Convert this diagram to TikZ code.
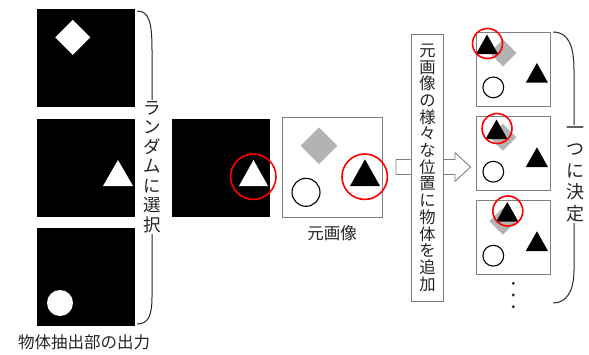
\documentclass[tikz,border=0pt]{standalone}
\usepackage{fontspec}
\newfontfamily\cjk{Noto Sans CJK JP}
\definecolor{lg}{HTML}{B3B3B3}
\definecolor{boxgray}{HTML}{7F7F7F}
\definecolor{txt}{HTML}{262626}
\newcommand{\resultbox}[5]{%
  \node[img, minimum width=74.5pt, minimum height=74pt, anchor=north west] (#1) at (#2,#3) {};
  \fill[lg] ({#2+27.4},{#3+21.2-13.5}) -- ({#2+27.4+13.5},{#3+21.2}) -- ({#2+27.4},{#3+21.2+13.5}) -- ({#2+27.4-13.5},{#3+21.2}) -- cycle;
  \draw[shapeline] ({#2+17.8},{#3+55.7}) circle (10.4);
  \fill[black] ({#2+61.4},{#3+31.3}) -- ({#2+72.5},{#3+51}) -- ({#2+50.3},{#3+51}) -- cycle;
  \fill[black] (#4,#5) -- ({#4+11.1},{#5+19.7}) -- ({#4-11.1},{#5+19.7}) -- cycle;
  \draw[ring] ({#4+0.5},{#5+9}) circle (15);
}
\begin{document}
\begin{tikzpicture}[x=1pt,y=-1pt,
  blk/.style={fill=black, draw=none, inner sep=0pt, minimum width=98pt, minimum height=98pt},
  img/.style={draw=boxgray, line width=0.9pt, fill=white, inner sep=0pt},
  ring/.style={draw=red, line width=1.6pt},
  shapeline/.style={draw=black, line width=1.1pt},
  lbl/.style={font=\cjk\fontsize{16.5}{18}\selectfont, text=txt, inner sep=1pt},
  vtext/.style={text=txt, align=center, inner sep=1pt},
  bracepath/.style={draw=txt, line width=1pt}
]
\useasboundingbox (0,0) rectangle (589,354);

% left column: object extraction outputs
\node[blk] (L1) at (86,58) {};
\node[blk] (L2) at (86,167.5) {};
\node[blk] (L3) at (86,277) {};
\fill[white] (72.7,19.8) -- (90.2,37.3) -- (72.7,54.8) -- (55.2,37.3) -- cycle;
\fill[white] (118,160) -- (133,186) -- (103,186) -- cycle;
\fill[white] (60,303) circle (13);
\node[lbl] (Lout) at (84,342) {物体抽出部の出力};

% left brace
\draw[bracepath] (137,11) .. controls (149,11) and (152,22) .. (152,50) -- (152,297) .. controls (152,316) and (148,324) .. (137,324);
\node[vtext, fill=white, font=\cjk\fontsize{17.5}{19.5}\selectfont] (Lsel) at (152,167) {ラ\\ン\\ダ\\ム\\に\\選\\択};

% selected object
\node[blk] (M) at (221,167.5) {};
\fill[white] (253.5,160) -- (268,186) -- (239,186) -- cycle;
\draw[ring] (253.3,176.7) circle (22.7);

% original image
\node[img, minimum width=100pt, minimum height=100pt] (O) at (332,167) {};
\fill[lg] (319,127.4) -- (337.3,145.7) -- (319,164) -- (300.7,145.7) -- cycle;
\draw[shapeline] (306,192.3) circle (14);
\fill[black] (365,159.3) -- (380,186) -- (350,186) -- cycle;
\draw[ring] (364.7,176.7) circle (22.7);
\node[lbl] (Olbl) at (332,233) {元画像};

% block arrow
\draw[draw=boxgray, fill=white, line width=0.9pt] (396,159.5) -- (455,159.5) -- (455,152.7) -- (470.7,167) -- (455,181.3) -- (455,174.5) -- (396,174.5) -- cycle;
\node[img, minimum width=31.6pt, minimum height=266.7pt] (T) at (427.5,167.7) {};
\node[vtext, font=\cjk\fontsize{16.3}{16.7}\selectfont] (Ttxt) at (T.center) {元\\画\\像\\の\\様\\々\\な\\位\\置\\に\\物\\体\\を\\追\\加};

% right column results
\resultbox{R1}{475.5}{31.7}{487}{34.5}
\resultbox{R2}{475.5}{116}{496.5}{119.5}
\resultbox{R3}{475.5}{200}{507.3}{202}
\fill[txt] (513.3,283.3) circle (1.6);
\fill[txt] (513.3,295) circle (1.6);
\fill[txt] (513.3,306.7) circle (1.6);

% right brace
\draw[bracepath] (553,32) .. controls (568,32) and (574,45) .. (574,70) -- (574,270) .. controls (574,292) and (566,303) .. (553,303);
\node[vtext, fill=white, font=\cjk\fontsize{18}{21.5}\selectfont] (Rsel) at (575,174) {一\\つ\\に\\決\\定};
\end{tikzpicture}
\end{document}
